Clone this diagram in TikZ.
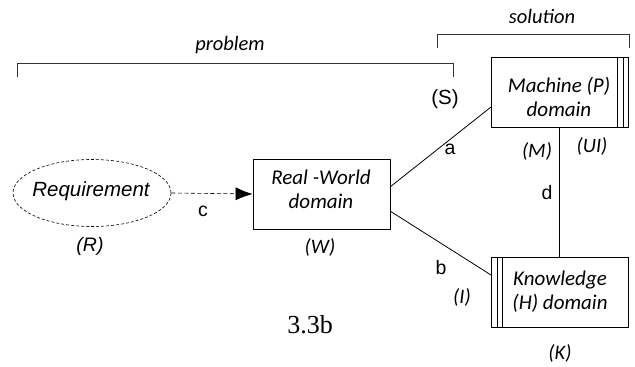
\documentclass[tikz,border=0pt]{standalone}
\usepackage{fontspec}
\setmainfont{Carlito}
\newfontfamily\arialf{Liberation Sans}
\newfontfamily\timesf{Liberation Serif}
\usetikzlibrary{shapes.geometric,arrows.meta}
\begin{document}
\begin{tikzpicture}[x=1pt,y=-1pt,
  line width=0.8pt,
  dom/.style={draw, minimum width=137pt, minimum height=70pt, inner sep=0pt},
  boxtxt/.style={font=\fontsize{21}{24}\selectfont\itshape, align=center},
  lab/.style={font=\fontsize{20.5}{24}\selectfont\itshape},
  lett/.style={font=\arialf\fontsize{19.5}{23}\selectfont},
  brk/.style={line width=0.7pt, draw=black!80}]
\useasboundingbox (0,0) rectangle (635,367);
% brackets
\draw[brk] (17,77) -- (17,63) -- (453,63) -- (453,77);
\node[font=\fontsize{20.5}{24}\selectfont\itshape] (prob) at (230,45) {problem};
\draw[brk] (437,48) -- (437,34) -- (629,34) -- (629,48);
\node[font=\fontsize{20.5}{24}\selectfont\itshape] (sol) at (542,16) {solution};
% nodes
\node[draw, dashed, dash pattern=on 3pt off 2pt, ellipse, line width=0.6pt, minimum width=158pt, minimum height=67pt, inner sep=0pt] (req) at (92,193) {};
\node[font=\arialf\fontsize{20.5}{24}\selectfont\itshape] (reqt) at (91,191) {Requirement};
\node[dom] (rw) at (321.5,194) {};
\node[boxtxt] (rwt) at (321,189) {Real -World\\domain};
\node[dom] (mach) at (559.5,92) {};
\draw (617,57) -- (617,127) (623,57) -- (623,127);
\node[boxtxt] (macht) at (559,97) {Machine (P)\\domain};
\node[dom] (know) at (559.5,292) {};
\draw (497,257) -- (497,327) (502,257) -- (502,327);
\node[boxtxt] (knowt) at (560,292) {Knowledge\\(H) domain};
% connectors
\coordinate (rwa) at (390,187);
\coordinate (rwb) at (390,211);
\coordinate (ma) at (491,107);
\coordinate (kb) at (491,275);
\draw (rwa) -- (ma);
\draw (rwb) -- (kb);
\draw (mach.south) -- (know.north);
\draw[dash pattern=on 4pt off 2.5pt, line width=0.6pt, -{Latex[length=17pt,width=13pt]}] (req.east) -- (rw.west);
% labels
\node[lett] (la) at (450,149) {a};
\node[lett] (lb) at (441,268) {b};
\node[lett] (lc) at (203,211) {c};
\node[lett] (ld) at (547,193) {d};
\node[font=\arialf\fontsize{20.5}{24}\selectfont] (ls) at (445,99) {(S)};
\node[font=\arialf\fontsize{19.5}{23}\selectfont\itshape] (lr) at (90,246) {(R)};
\node[lab] (lw) at (320,247) {(W)};
\node[lab] (lm) at (537,151) {(M)};
\node[lab] (lui) at (592,146) {(UI)};
\node[lab] (li) at (462,297) {(I)};
\node[lab] (lk) at (560,353) {(K)};
\node[font=\timesf\fontsize{26}{30}\selectfont] (cap) at (310,325) {3.3b};
\end{tikzpicture}
\end{document}
